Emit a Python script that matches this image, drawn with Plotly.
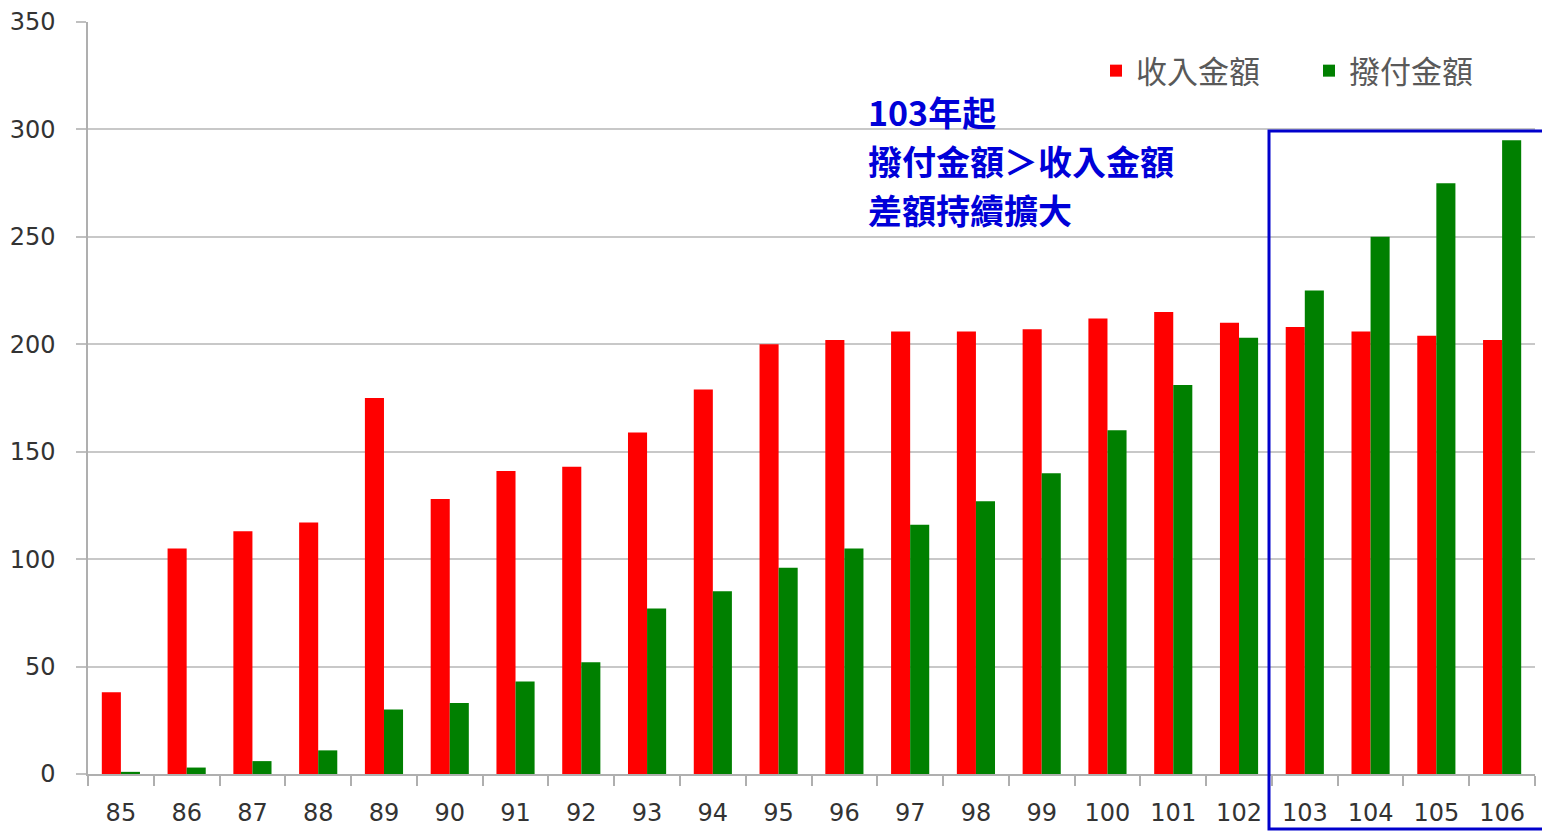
import plotly.graph_objects as go

years = [str(y) for y in range(85, 107)]
income = [38, 105, 113, 117, 175, 128, 141, 143, 159, 179, 200, 202, 206, 206, 207, 212, 215, 210, 208, 206, 204, 202]
payout = [1, 3, 6, 11, 30, 33, 43, 52, 77, 85, 96, 105, 116, 127, 140, 160, 181, 203, 225, 250, 275, 295]
series_names = ["收入金額", "撥付金額"]
note_lines = ["103年起", "撥付金額＞收入金額", "差額持續擴大"]
y_ticks = [0, 50, 100, 150, 200, 250, 300, 350]

# The page body has an 8px margin, so the figure is drawn offset by 8px.
W, H = 1550, 840
L, R, T, B = 80, 23, 14, 74
pw, ph = W - L - R, H - T - B

def px_x(x):  # screen x -> paper
    return (x - 88) / pw

def px_y(y):  # screen y -> paper
    return (774 - y) / ph

fig = go.Figure()
fig.add_trace(go.Bar(x=years, y=income, name=series_names[0], marker=dict(color="#FF0000", line=dict(width=0))))
fig.add_trace(go.Bar(x=years, y=payout, name=series_names[1], marker=dict(color="#008000", line=dict(width=0))))

cjk = "Noto Sans CJK TC"
tickfont = dict(family="DejaVu Sans", size=24, color="#333333")

fig.update_layout(
    width=W, height=H,
    margin=dict(l=L, r=R, t=T, b=B, autoexpand=False),
    paper_bgcolor="white", plot_bgcolor="white",
    barmode="group", bargap=0.42, bargroupgap=0,
    showlegend=True,
    legend=dict(orientation="h", x=px_x(1096), xanchor="left", y=px_y(71), yanchor="middle",
                font=dict(family=cjk, size=31, color="#595959"),
                entrywidth=168, entrywidthmode="pixels",
                bgcolor="rgba(0,0,0,0)", traceorder="normal"),
    xaxis=dict(type="category", tickson="boundaries", ticks="outside", ticklen=10, tickcolor="#AFAFAF",
               tickwidth=1.5, showline=True, linecolor="#AFAFAF", linewidth=1.5, showgrid=False,
               tickfont=tickfont, ticklabelstandoff=16),
    yaxis=dict(range=[0, 350], tickvals=y_ticks, ticks="outside", ticklen=10, tickcolor="#C0C0C0",
               tickwidth=1.5, showline=True, linecolor="#AFAFAF", linewidth=1.5,
               showgrid=True, gridcolor="#C8C8C8", gridwidth=1.5, zeroline=False,
               tickfont=tickfont, ticklabelstandoff=16, ticklabeloverflow="allow"),
)

note_size = 34
pitch = 49
for i, line in enumerate(note_lines):
    fig.add_annotation(text="<b>" + line + "</b>", xref="paper", yref="paper",
                       x=px_x(867), y=px_y(86 + i * pitch), xanchor="left", yanchor="top",
                       showarrow=False, borderpad=0,
                       font=dict(family=cjk, size=note_size, color="#0000D8"))

fig.add_shape(type="rect", xref="paper", yref="paper",
              x0=px_x(1269), x1=px_x(1556), y0=px_y(829), y1=px_y(131),
              line=dict(color="#0000CC", width=3), fillcolor="rgba(0,0,0,0)", layer="above")

fig.write_html("out.html")
